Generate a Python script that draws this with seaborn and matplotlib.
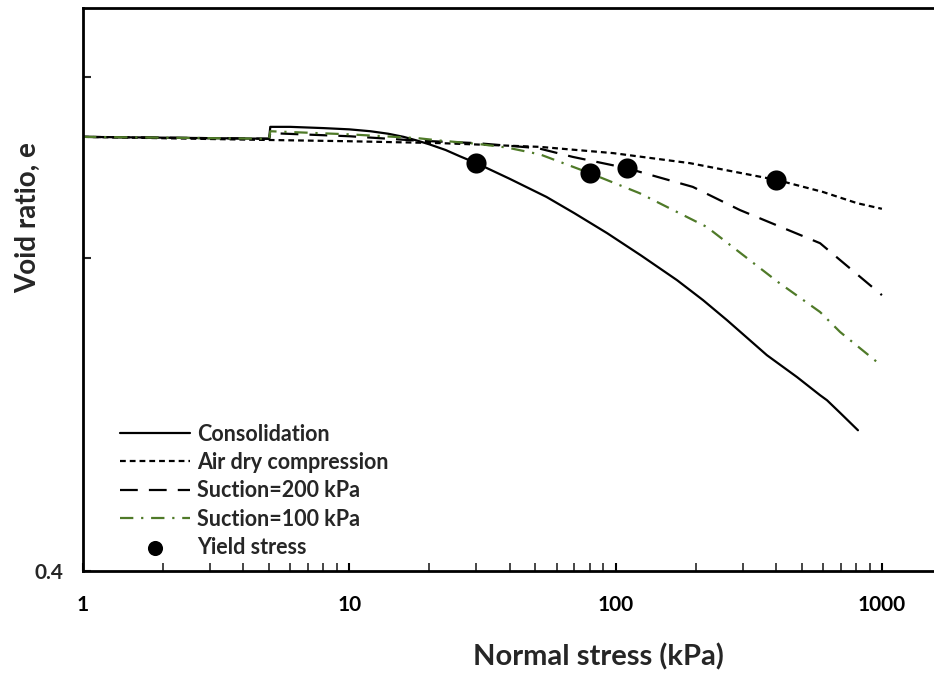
import matplotlib
matplotlib.use("Agg")
import matplotlib.pyplot as plt
import seaborn as sns
import pandas as pd

# ---- data ----
cons_x = [1, 5, 5.05, 6, 8, 10, 12, 14, 16, 18, 20, 23, 26, 30, 40, 55, 70, 93, 125, 170, 213, 262, 370, 480, 586, 622, 700, 813]
cons_e = [1.094, 1.091, 1.110, 1.110, 1.108, 1.106, 1.103, 1.099, 1.094, 1.088, 1.082, 1.073, 1.063, 1.052, 1.027, 0.998, 0.972, 0.940, 0.904, 0.865, 0.833, 0.801, 0.745, 0.710, 0.681, 0.673, 0.652, 0.625]

air_x = [1, 5, 10, 22, 52, 98, 190, 404, 600, 807, 1000]
air_e = [1.094, 1.089, 1.087, 1.084, 1.078, 1.068, 1.052, 1.025, 1.006, 0.988, 0.979]

s200_x = [1, 5, 5.05, 10, 18, 30, 51, 69, 110, 195, 293, 586, 697, 1000]
s200_e = [1.094, 1.091, 1.100, 1.095, 1.088, 1.084, 1.076, 1.062, 1.044, 1.014, 0.977, 0.924, 0.897, 0.841]

s100_x = [1, 5, 5.05, 10, 18, 22, 30, 39, 52, 80, 123, 220, 407, 586, 697, 959]
s100_e = [1.094, 1.091, 1.103, 1.098, 1.092, 1.088, 1.083, 1.077, 1.066, 1.036, 1.004, 0.950, 0.862, 0.814, 0.782, 0.734]

yield_x = [30, 80, 110, 400]
yield_e = [1.052, 1.036, 1.044, 1.025]

series_names = ["Consolidation", "Air dry compression", "Suction=200 kPa", "Suction=100 kPa"]
yield_name = "Yield stress"

x_ticks = [1, 10, 100, 1000]
x_ticklabels = ["1", "10", "100", "1000"]
y_ticks = [0.4, 0.9, 1.19]
y_ticklabels = ["0.4", "", ""]

# ---- plotting ----
sns.set_theme(style="white")
plt.rcParams["font.family"] = ["Lato", "DejaVu Sans"]
plt.rcParams["font.weight"] = "bold"

fig = plt.figure(figsize=(9.34, 6.8), dpi=100)
ax = fig.add_axes([83 / 934, (680 - 571) / 680, 1 - 83 / 934, (571 - 8) / 680])

green = "#4f7a28"
styles = [
    dict(color="black", linewidth=1.6, linestyle="-"),
    dict(color="black", linewidth=1.6, linestyle=(0, (2.6, 1.8))),
    dict(color="black", linewidth=1.6, linestyle=(0, (8, 5))),
    dict(color=green, linewidth=1.6, linestyle=(0, (6, 3.5, 1, 3.5))),
]
xs = [cons_x, air_x, s200_x, s100_x]
es = [cons_e, air_e, s200_e, s100_e]

for name, x, e, st in zip(series_names, xs, es, styles):
    df = pd.DataFrame({"stress": x, "e": e})
    sns.lineplot(data=df, x="stress", y="e", ax=ax, sort=False, estimator=None,
                 label=name, **st)

ydf = pd.DataFrame({"stress": yield_x, "e": yield_e})
sns.scatterplot(data=ydf, x="stress", y="e", ax=ax, color="black", s=210,
                edgecolor="black", linewidth=0, label=yield_name, zorder=5)

ax.set_xscale("log")
ax.set_xlim(1, 10 ** (851 / 266.3))
ax.set_ylim(0.4, 1.3)
ax.set_xticks(x_ticks)
ax.set_xticklabels(x_ticklabels)
ax.set_yticks(y_ticks)
ax.set_yticklabels(y_ticklabels)

for lab in ax.get_xticklabels() + ax.get_yticklabels():
    lab.set_fontweight("bold")
    lab.set_fontsize(15)

ax.tick_params(axis="x", which="major", direction="in", length=6, width=1.5,
               pad=17, bottom=True, colors="black")
ax.tick_params(axis="x", which="minor", direction="in", length=6, width=1.2,
               bottom=True)
ax.tick_params(axis="y", which="major", direction="in", length=6, width=1.5,
               pad=14, left=True)

for side in ["left", "bottom", "top"]:
    ax.spines[side].set_visible(True)
    ax.spines[side].set_color("black")
    ax.spines[side].set_linewidth(2.0)
ax.spines["right"].set_visible(False)

ax.set_xlabel("Normal stress (kPa)", fontsize=21, fontweight="bold")
ax.set_ylabel("Void ratio, e", fontsize=20, fontweight="bold")
ax.xaxis.set_label_coords((598 - 83) / 851, -(657 - 571) / 563)
ax.yaxis.set_label_coords(-(83 - 28) / 851, (571 - 218) / 563)
ax.xaxis.label.set_va("center")
ax.yaxis.label.set_va("center")

leg = ax.legend(loc="upper left", bbox_to_anchor=((111 - 83) / 851, (571 - 415) / 563),
                frameon=False, handlelength=3.25, handletextpad=0.33,
                labelspacing=0.34, markerscale=0.75,
                prop={"weight": "bold", "size": 15.5}, borderaxespad=0)

fig.savefig("out.png", dpi=100)
